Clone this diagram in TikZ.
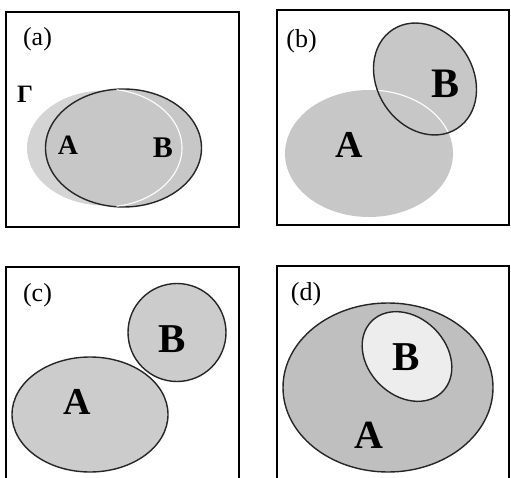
\documentclass[tikz,border=0pt]{standalone}
\usepackage{fontspec}
\setmainfont{Liberation Serif}
\definecolor{lightfill}{gray}{0.83}
\definecolor{midfill}{gray}{0.78}
\definecolor{cfill}{gray}{0.80}
\definecolor{dfill}{gray}{0.75}
\definecolor{innerfill}{gray}{0.93}
\definecolor{outline}{gray}{0.15}
\tikzset{
  panel/.style={draw=black, line width=1.8pt},
  setline/.style={draw=outline, line width=1.4pt},
  tag/.style={inner sep=0pt, font=\fontsize{26}{26}\selectfont},
  setlbl/.style={inner sep=0pt, font=\bfseries\fontsize{#1}{#1}\selectfont},
  setlbl/.default=36,
}
\begin{document}
\begin{tikzpicture}[x=1pt,y=1pt]
\useasboundingbox (0,0) rectangle (511,477);
% ---------- (a) ----------
\draw[panel] (6,250) rectangle (239,465);
\fill[lightfill] (104.5,329) ellipse [x radius=77.5, y radius=57.5];
\fill[midfill] (123.5,329) ellipse [x radius=78, y radius=59];
\draw[setline] (123.5,329) ellipse [x radius=78, y radius=59];
\draw[white, line width=1.1pt] (104.5,329) ++(81:77.5 and 59) arc [start angle=81, end angle=-81, x radius=77.5, y radius=59];
\node[tag] (la) at (37.5,438) {(a)};
\node[setlbl=25] (gam) at (25,383) {Γ};
\node[setlbl=28] (aA) at (68,331.5) {A};
\node[setlbl=30] (aB) at (163,329) {B};
% ---------- (b) ----------
\draw[panel] (277,252) rectangle (509,467);
\fill[midfill] (369,323.5) ellipse [x radius=84, y radius=63.5];
\fill[midfill] (425,398) ellipse [x radius=48, y radius=59, rotate=33];
\begin{scope}
  \clip (425,398) ellipse [x radius=48, y radius=59, rotate=33];
  \draw[white, line width=1.1pt] (369,323.5) ellipse [x radius=84, y radius=63.5];
\end{scope}
\draw[setline] (425,398) ellipse [x radius=48, y radius=59, rotate=33];
\node[tag] (lb) at (301.5,436) {(b)};
\node[setlbl=38] (bA) at (349,332) {A};
\node[setlbl=42] (bB) at (445.5,393) {B};
% ---------- (c) ----------
\draw[panel] (6,-5) -- (6,210) -- (239,210) -- (239,-5);
\filldraw[fill=cfill, setline] (90,62.5) ellipse [x radius=78, y radius=57.5];
\filldraw[fill=cfill, setline] (177,144.5) circle [radius=49];
\node[tag] (lc) at (37.5,182) {(c)};
\node[setlbl=38] (cA) at (77,75.5) {A};
\node[setlbl=41] (cB) at (172.5,138) {B};
% ---------- (d) ----------
\draw[panel] (277,-5) -- (277,211) -- (509,211) -- (509,-5);
\filldraw[fill=dfill, setline] (388,89.5) ellipse [x radius=105, y radius=84.5];
\filldraw[fill=innerfill, setline] (407,120.5) ellipse [x radius=50, y radius=39, rotate=-45];
\node[tag] (ld) at (306,182.5) {(d)};
\node[setlbl=41] (dB) at (406.5,119.5) {B};
\node[setlbl=40] (dA) at (369,42) {A};
\end{tikzpicture}
\end{document}
